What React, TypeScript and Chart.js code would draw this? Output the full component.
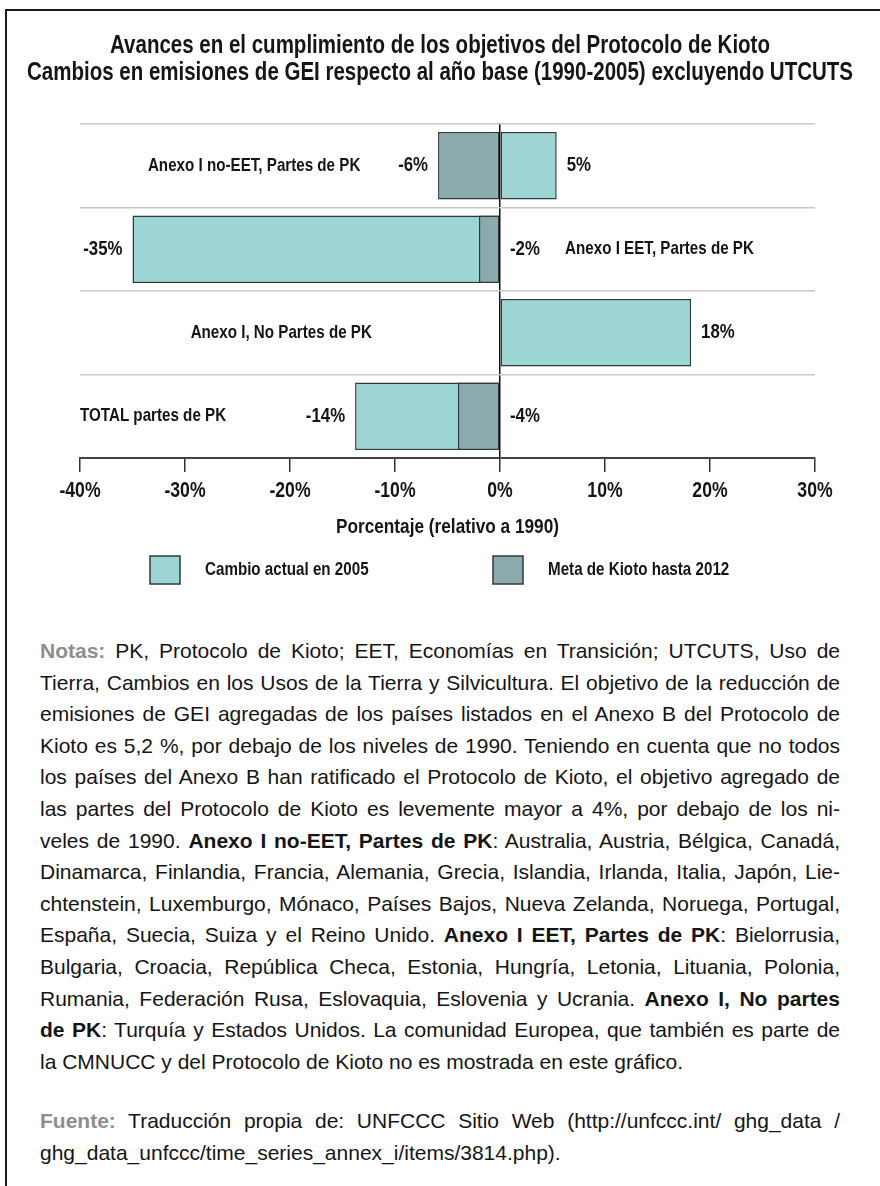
import React, { useEffect, useRef } from 'react';
import { Chart, registerables } from 'chart.js';

Chart.register(...registerables);

// ---------- data ----------
const categories = [
  'Anexo I no-EET, Partes de PK',
  'Anexo I EET, Partes de PK',
  'Anexo I, No Partes de PK',
  'TOTAL partes de PK',
];
const actualChange2005 = [5.4, -35, 18.2, -13.8];
const kyotoTarget2012: (number | null)[] = [-5.9, -2, null, -4];
const seriesNames = ['Cambio actual en 2005', 'Meta de Kioto hasta 2012'];
const xTickValues = [-40, -30, -20, -10, 0, 10, 20, 30];
const titleLines = [
  'Avances en el cumplimiento de los objetivos del Protocolo de Kioto',
  'Cambios en emisiones de GEI respecto al año base (1990-2005) excluyendo UTCUTS',
];
const xAxisTitle = 'Porcentaje (relativo a 1990)';

// ---------- styles ----------
const FONT = "'Liberation Sans', Arial, sans-serif";
const NARROW = 0.82; // Arial Narrow ≈ 82% of Arial width
const COLOR_ACTUAL = '#9dd5d5';
const COLOR_TARGET = '#8caaad';
const BAR_BORDER = '#2f3b3b';
const TEXT = '#151515';

// where each category name sits inside the plot (in axis units) and how it is aligned
const CATEGORY_LABEL_ANCHORS: { at: number; align: CanvasTextAlign }[] = [
  { at: -13.3, align: 'right' },
  { at: 6.2, align: 'left' },
  { at: -12.2, align: 'right' },
  { at: -40, align: 'left' },
];

const notesLines: string[] = [
  '[[Notas:]] PK, Protocolo de Kioto; EET, Economías en Transición; UTCUTS, Uso de',
  'Tierra, Cambios en los Usos de la Tierra y Silvicultura. El objetivo de la reducción de',
  'emisiones de GEI agregadas de los países listados en el Anexo B del Protocolo de',
  'Kioto es 5,2 %, por debajo de los niveles de 1990. Teniendo en cuenta que no todos',
  'los países del Anexo B han ratificado el Protocolo de Kioto, el objetivo agregado de',
  'las partes del Protocolo de Kioto es levemente mayor a 4%, por debajo de los ni-',
  'veles de 1990. **Anexo I no-EET, Partes de PK**: Australia, Austria, Bélgica, Canadá,',
  'Dinamarca, Finlandia, Francia, Alemania, Grecia, Islandia, Irlanda, Italia, Japón, Lie-',
  'chtenstein, Luxemburgo, Mónaco, Países Bajos, Nueva Zelanda, Noruega, Portugal,',
  'España, Suecia, Suiza y el Reino Unido. **Anexo I EET, Partes de PK**: Bielorrusia,',
  'Bulgaria, Croacia, República Checa, Estonia, Hungría, Letonia, Lituania, Polonia,',
  'Rumania, Federación Rusa, Eslovaquia, Eslovenia y Ucrania. **Anexo I, No partes**',
  '**de PK**: Turquía y Estados Unidos. La comunidad Europea, que también es parte de',
  'la CMNUCC y del Protocolo de Kioto no es mostrada en este gráfico.',
];
const sourceLines: string[] = [
  '[[Fuente:]] Traducción propia de: UNFCCC Sitio Web (http://unfccc.int/ ghg_data /',
  'ghg_data_unfccc/time_series_annex_i/items/3814.php).',
];

function renderRich(line: string) {
  const parts = line.split(/(\*\*[^*]+\*\*|\[\[[^\]]+\]\])/g).filter((p) => p !== '');
  return parts.map((p, i) => {
    if (p.startsWith('**')) return <b key={i}>{p.slice(2, -2)}</b>;
    if (p.startsWith('[['))
      return (
        <b key={i} style={{ color: '#8e8e8e' }}>
          {p.slice(2, -2)}
        </b>
      );
    return <span key={i}>{p}</span>;
  });
}

function Paragraph({ lines, top }: { lines: string[]; top: number }) {
  return (
    <div
      style={{
        position: 'absolute',
        left: 40,
        top,
        width: 800,
        fontFamily: FONT,
        fontSize: 21,
        lineHeight: '31.6px',
        color: TEXT,
      }}
    >
      {lines.map((l, i) => {
        const last = i === lines.length - 1;
        return (
          <div
            key={i}
            style={{
              textAlign: last ? 'left' : 'justify',
              textAlignLast: last ? 'left' : 'justify',
            }}
          >
            {renderRich(l)}
          </div>
        );
      })}
    </div>
  );
}

function narrowText(
  ctx: CanvasRenderingContext2D,
  text: string,
  x: number,
  y: number,
  align: CanvasTextAlign,
  size: number
) {
  ctx.save();
  ctx.font = `bold ${size}px ${FONT}`;
  ctx.textAlign = align;
  ctx.textBaseline = 'middle';
  ctx.translate(x, y);
  ctx.scale(NARROW, 1);
  ctx.fillText(text, 0, 0);
  ctx.restore();
}

const overlayPlugin = {
  id: 'overlay',
  afterDatasetsDraw(chart: any) {
    const { ctx } = chart;
    const xs = chart.scales.x;
    const ys = chart.scales.y;
    ctx.save();
    ctx.fillStyle = TEXT;

    // category names inside the plot
    categories.forEach((c, i) => {
      const a = CATEGORY_LABEL_ANCHORS[i];
      narrowText(ctx, c, xs.getPixelForValue(a.at), ys.getPixelForValue(i), a.align, 18.5);
    });

    // value labels
    const metaA = chart.getDatasetMeta(0);
    const metaT = chart.getDatasetMeta(1);
    const zero = xs.getPixelForValue(0);
    const VS = 20.5;
    const drawOut = (x: number, y: number, v: number) => {
      const txt = `${Math.round(v)}%`;
      if (v < 0) narrowText(ctx, txt, x - 10, y, 'right', VS);
      else narrowText(ctx, txt, x + 10, y, 'left', VS);
    };
    categories.forEach((_, i) => {
      const a = actualChange2005[i];
      const t = kyotoTarget2012[i];
      const barA = metaA.data[i];
      drawOut(barA.x, barA.y, a);
      if (t !== null && t !== undefined) {
        const barT = metaT.data[i];
        if (Math.sign(t) === Math.sign(a) && Math.abs(t) < Math.abs(a)) {
          narrowText(ctx, `${Math.round(t)}%`, zero + 10, barT.y, 'left', VS);
        } else {
          drawOut(barT.x, barT.y, t);
        }
      }
    });

    // tick labels and axis title (narrow face, positioned by the x scale)
    xs.ticks.forEach((t: any) => {
      narrowText(ctx, `${t.value}%`, xs.getPixelForValue(t.value), 491, 'center', 21.5);
    });
    const ca = chart.chartArea;
    narrowText(ctx, xAxisTitle, (ca.left + ca.right) / 2, 527, 'center', 21);
    ctx.restore();
  },
  afterDraw(chart: any) {
    const { ctx } = chart;
    ctx.save();
    ctx.fillStyle = TEXT;
    // title
    narrowText(ctx, titleLines[0], 440, 46, 'center', 25);
    narrowText(ctx, titleLines[1], 440, 73, 'center', 25);

    // legend
    const boxX = [150, 493];
    chart.data.datasets.forEach((ds: any, i: number) => {
      ctx.fillStyle = ds.backgroundColor;
      ctx.fillRect(boxX[i], 556, 30, 28);
      ctx.strokeStyle = BAR_BORDER;
      ctx.lineWidth = 1.5;
      ctx.strokeRect(boxX[i], 556, 30, 28);
      ctx.fillStyle = TEXT;
      narrowText(ctx, ds.label, boxX[i] + 55, 570, 'left', 18.5);
    });
    ctx.restore();
  },
};

export default function App() {
  const canvasRef = useRef<HTMLCanvasElement>(null);

  useEffect(() => {
    if (!canvasRef.current) return;
    const chart = new Chart(canvasRef.current, {
      type: 'bar',
      data: {
        labels: categories,
        datasets: [
          {
            label: seriesNames[0],
            data: actualChange2005,
            backgroundColor: COLOR_ACTUAL,
            borderColor: BAR_BORDER,
            borderWidth: 1.5,
            borderSkipped: false,
            order: 1,
          },
          {
            label: seriesNames[1],
            data: kyotoTarget2012,
            backgroundColor: COLOR_TARGET,
            borderColor: BAR_BORDER,
            borderWidth: 1.5,
            borderSkipped: false,
            order: 0,
          },
        ],
      },
      options: {
        indexAxis: 'y',
        responsive: false,
        animation: false,
        devicePixelRatio: 1,
        grouped: false,
        categoryPercentage: 1,
        barPercentage: 0.81,
        layout: { padding: { top: 124, left: 80, right: 65, bottom: 60 } },
        plugins: {
          legend: { display: false },
          title: { display: false },
          tooltip: { enabled: false },
        },
        scales: {
          x: {
            type: 'linear',
            min: -40,
            max: 30,
            afterBuildTicks: (scale: any) => {
              scale.ticks = xTickValues.map((v) => ({ value: v }));
            },
            afterFit: (scale: any) => {
              scale.height = 82;
            },
            ticks: {
              padding: 10,
              color: 'rgba(0,0,0,0)',
              font: { family: FONT, size: 17, weight: 'bold' },
              callback: (v: any) => `${v}%`,
            },
            grid: {
              drawOnChartArea: true,
              color: (c: any) => (c.tick && c.tick.value === 0 ? '#111' : 'rgba(0,0,0,0)'),
              lineWidth: 1.5,
              tickColor: '#333',
              tickLength: 14,
              tickWidth: 1.5,
            },
            border: { display: true, color: '#444', width: 2 },
          },
          y: {
            type: 'category',
            offset: true,
            afterFit: (scale: any) => {
              scale.width = 0;
            },
            ticks: { display: false },
            grid: {
              offset: true,
              drawTicks: false,
              color: '#c8c8c8',
              lineWidth: 1.5,
            },
            border: { display: false },
          },
        },
      } as any,
      plugins: [overlayPlugin],
    });
    return () => chart.destroy();
  }, []);

  return (
    <div
      style={{
        position: 'absolute',
        left: 0,
        top: 0,
        width: 880,
        height: 1186,
        overflow: 'hidden',
        background: '#fff',
      }}
    >
      <div
        style={{
          position: 'absolute',
          left: 5,
          top: 9,
          width: 900,
          height: 1200,
          borderLeft: '2px solid #1a1a1a',
          borderTop: '2px solid #1a1a1a',
        }}
      />
      <canvas
        ref={canvasRef}
        width={880}
        height={600}
        style={{ position: 'absolute', left: 0, top: 0, width: 880, height: 600 }}
      />
      <Paragraph lines={notesLines} top={635} />
      <Paragraph lines={sourceLines} top={1105} />
    </div>
  );
}
